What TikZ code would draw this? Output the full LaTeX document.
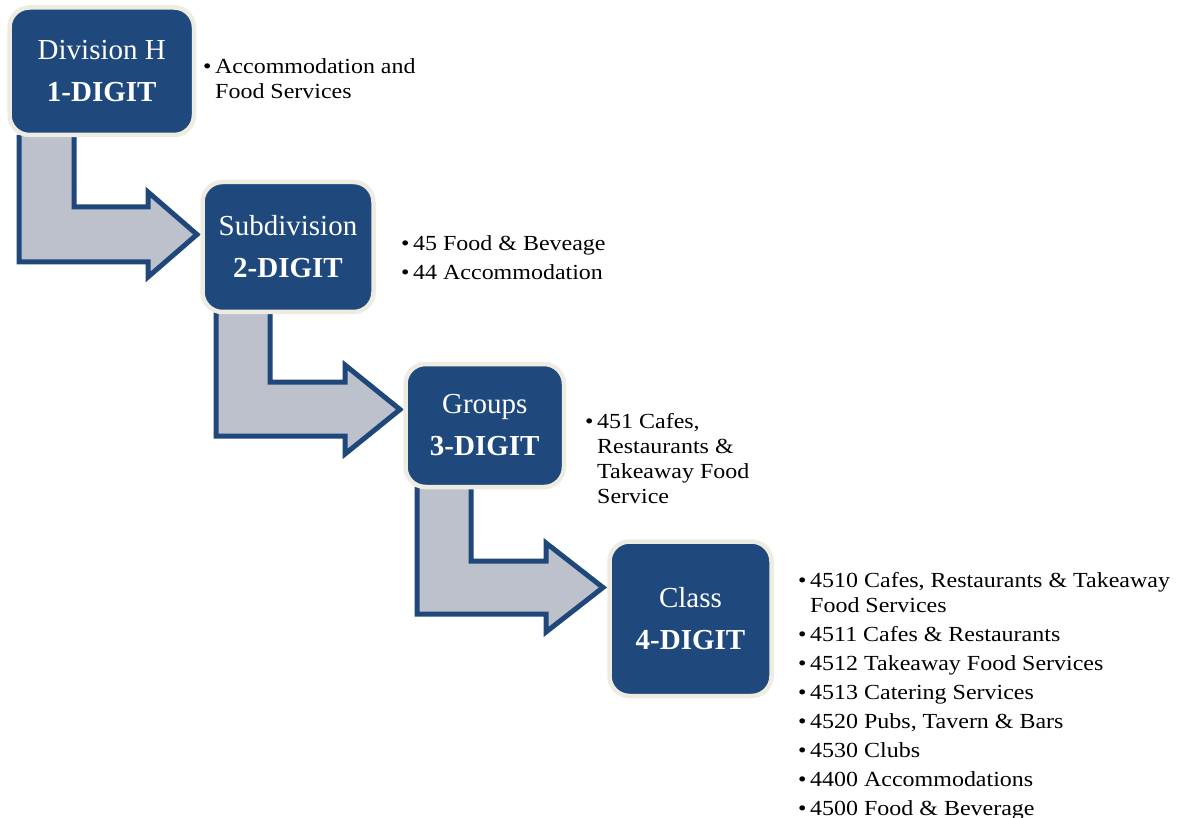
\documentclass[tikz,border=0pt]{standalone}
\usepackage{fontspec}
\setmainfont{Liberation Serif}
\newfontfamily\listfont[FakeStretch=1.115]{Liberation Serif}
\usepackage{xcolor}
\usepackage{tikz}
\usetikzlibrary{calc, backgrounds}
\definecolor{boxblue}{HTML}{1F497D}
\definecolor{boxrim}{HTML}{EEECE1}
\definecolor{arrowgray}{HTML}{BDC1CC}
\definecolor{arrowline}{HTML}{1F477A}
\newcommand{\itembul}{\makebox[12pt][l]{\textbullet}}
\newcommand{\itemgap}{\hspace*{12pt}}

\begin{document}
\begin{tikzpicture}[x=1pt, y=-1pt,
    digitbox/.style={draw=boxrim, line width=4.5pt, fill=boxblue, rounded corners=20pt,
        text=white, align=center, inner sep=0pt, outer sep=0pt,
        font=\fontsize{29}{42}\selectfont},
    bentarrow/.style={draw=arrowline, line width=5pt, fill=arrowgray, line join=miter},
    codelist/.style={anchor=base west, inner sep=0pt, font=\listfont\fontsize{21.5}{25}\selectfont}]
    \useasboundingbox (0,0) rectangle (1178,818);

    % Level boxes
    \node[digitbox, minimum width=184.5pt, minimum height=127.5pt] (div) at (101.75,71.25)
        {Division H\\\textbf{1-DIGIT}};
    \node[digitbox, minimum width=171pt, minimum height=130pt] (sub) at (288,247)
        {Subdivision\\\textbf{2-DIGIT}};
    \node[digitbox, minimum width=158.5pt, minimum height=123pt] (grp) at (484.75,425.5)
        {Groups\\\textbf{3-DIGIT}};
    \node[digitbox, minimum width=162pt, minimum height=154.5pt] (cls) at (690.5,618.75)
        {Class\\\textbf{4-DIGIT}};

    % Bent arrows between levels
    \coordinate (tip1) at (197,234.5);
    \coordinate (tip2) at (400,409.5);
    \coordinate (tip3) at (603,587.5);
    \begin{scope}[on background layer]
        \draw[bentarrow] ($(div.south west)+(9.5,0)$) |- (148,262) -- (148,277) -- (tip1)
            -- (148,192) -- (148,207) -- (74,207) -- ($(div.south west)+(64.5,0)$);
        \draw[bentarrow] ($(sub.south west)+(13.5,0)$) |- (345,436) -- (345,454) -- (tip2)
            -- (345,365) -- (345,382) -- (270,382) -- ($(sub.south west)+(67.5,0)$);
        \draw[bentarrow] ($(grp.south west)+(11.5,0)$) |- (546,614) -- (546,632) -- (tip3)
            -- (546,543) -- (546,561) -- (471,561) -- ($(grp.south west)+(65.5,0)$);
    \end{scope}

    % Code lists
    \node[codelist] (divlist) at (203,74) {\begin{tabular}[t]{@{}l@{}}
        \itembul Accommodation and\\
        \itemgap Food Services
        \end{tabular}};
    \node[codelist] (sublist) at (401,251) {\begin{tabular}[t]{@{}l@{}}
        \itembul 45 Food \& Beveage\\[4pt]
        \itembul 44 Accommodation
        \end{tabular}};
    \node[codelist] (grplist) at (585,428) {\begin{tabular}[t]{@{}l@{}}
        \itembul 451 Cafes,\\
        \itemgap Restaurants \&\\
        \itemgap Takeaway Food\\
        \itemgap Service
        \end{tabular}};
    \node[codelist] (clslist) at (798,587) {\begin{tabular}[t]{@{}l@{}}
        \itembul 4510 Cafes, Restaurants \& Takeaway\\
        \itemgap Food Services\\[4pt]
        \itembul 4511 Cafes \& Restaurants\\[4pt]
        \itembul 4512 Takeaway Food Services\\[4pt]
        \itembul 4513 Catering Services\\[4pt]
        \itembul 4520 Pubs, Tavern \& Bars\\[4pt]
        \itembul 4530 Clubs\\[4pt]
        \itembul 4400 Accommodations\\[4pt]
        \itembul 4500 Food \& Beverage
        \end{tabular}};
\end{tikzpicture}
\end{document}
